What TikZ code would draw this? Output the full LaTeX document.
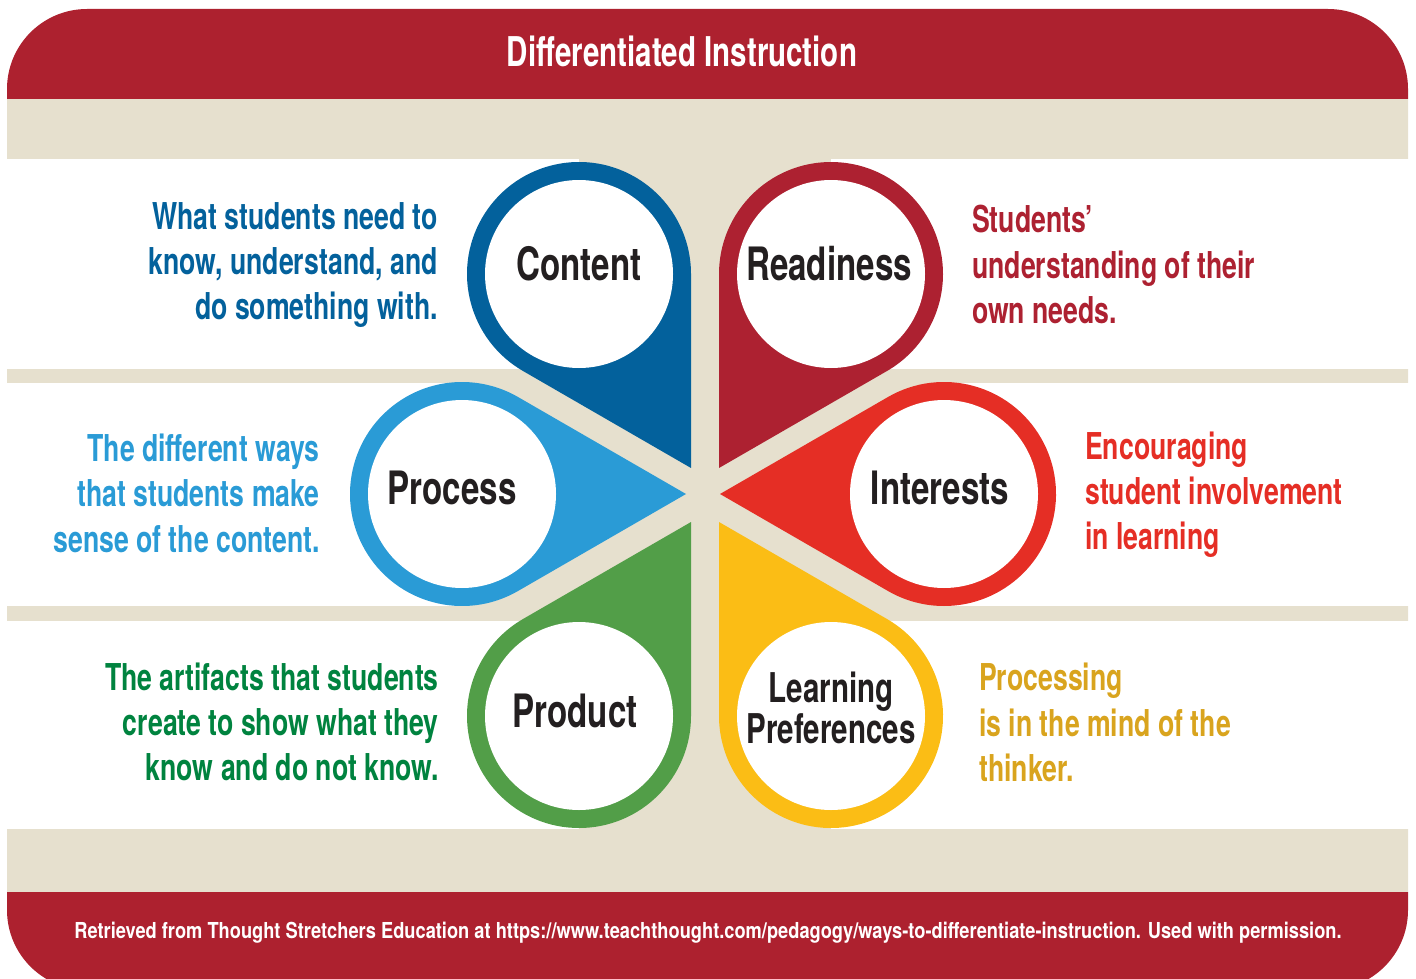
\documentclass[tikz,border=0pt]{standalone}
\usepackage{fontspec}
\newfontfamily\cnd[FakeStretch=0.72]{TeX Gyre Heros}
\newfontfamily\cndf[FakeStretch=0.83]{TeX Gyre Heros}
\usetikzlibrary{calc}
\definecolor{hdrred}{HTML}{AD212F}
\definecolor{beige}{HTML}{E6E0CE}
\definecolor{cblue}{HTML}{03619C}
\definecolor{rred}{HTML}{AD2131}
\definecolor{pblue}{HTML}{2A9BD6}
\definecolor{ired}{HTML}{E52E25}
\definecolor{pgreen}{HTML}{529E48}
\definecolor{lyellow}{HTML}{FBBD15}
\definecolor{gtext}{HTML}{00833F}
\definecolor{ytext}{HTML}{D9A41E}
\definecolor{lblack}{HTML}{231F20}
\newcommand\petal[3]{%
  \fill[#3] ($(#1)+(#2:224)$) -- ($(#1)+(#2+60:112)$) arc[start angle=#2+60, end angle=#2+300, radius=112] -- cycle;
  \fill[white] (#1) circle[radius=94];}
\tikzset{
  ttl/.style={font=\cnd\bfseries\fontsize{41}{41}\selectfont, text=white, inner sep=0pt},
  lbl/.style={font=\cnd\bfseries\fontsize{46}{46}\selectfont, text=lblack, inner sep=0pt},
  lbl2/.style={font=\cnd\bfseries\fontsize{41}{41}\selectfont, text=lblack, inner sep=0pt, anchor=base},
  dl/.style={font=\cnd\bfseries\fontsize{37}{37}\selectfont, inner sep=0pt, anchor=base east},
  dr/.style={font=\cnd\bfseries\fontsize{37}{37}\selectfont, inner sep=0pt, anchor=base west},
  foot/.style={font=\cndf\bfseries\fontsize{22}{22}\selectfont, text=white, inner sep=0pt, anchor=base}
}
\begin{document}
\begin{tikzpicture}[x=1pt,y=-1pt]
\useasboundingbox (0,0) rectangle (1416,979);
% frame and bands
\begin{scope}
\clip[rounded corners=80pt] (7,9) rectangle (1408,990);
\fill[hdrred] (0,0) rectangle (1416,99);
\fill[beige] (0,99) rectangle (1416,159);
\fill[beige] (0,369) rectangle (1416,383);
\fill[beige] (0,606) rectangle (1416,621);
\fill[beige] (0,829) rectangle (1416,892);
\fill[hdrred] (0,892) rectangle (1416,990);
\end{scope}
% beige background behind the flower
\fill[beige] (579,159) rectangle (831,369);
\fill[beige] (691,159) rectangle (720,829);
\fill[beige] (462,369) rectangle (944,621);
\fill[beige] (579,621) rectangle (831,829);
% petals
\petal{579,274}{60}{cblue}
\petal{831,274}{120}{rred}
\petal{462,494}{0}{pblue}
\petal{944,494}{180}{ired}
\petal{579,716}{300}{pgreen}
\petal{831,716}{240}{lyellow}
% title and footer
\node[ttl] (title) at (682,51) {Differentiated Instruction};
\node[foot] (footer) at (708,938) {Retrieved from Thought Stretchers Education at https://www.teachthought.com/pedagogy/ways-to-differentiate-instruction. Used with permission.};
% petal labels
\node[lbl] (content) at (579,264) {Content};
\node[lbl] (readiness) at (829,264) {Readiness};
\node[lbl] (process) at (452,488) {Process};
\node[lbl] (interests) at (940,488) {Interests};
\node[lbl] (product) at (575,711) {Product};
\node[lbl2] (learning) at (831,702) {Learning};
\node[lbl2] (preferences) at (831,743) {Preferences};
% descriptions
\node[dl, text=cblue] (cd1) at (438,229) {What students need to};
\node[dl, text=cblue] (cd2) at (438,274) {know, understand, and};
\node[dl, text=cblue] (cd3) at (438,319) {do something with.};
\node[dr, text=rred] (rd1) at (972,232) {Students’};
\node[dr, text=rred] (rd2) at (972,278) {understanding of their};
\node[dr, text=rred] (rd3) at (972,323) {own needs.};
\node[dl, text=pblue] (pd1) at (320,461) {The different ways};
\node[dl, text=pblue] (pd2) at (320,506) {that students make};
\node[dl, text=pblue] (pd3) at (320,552) {sense of the content.};
\node[dr, text=ired] (id1) at (1085,459) {Encouraging};
\node[dr, text=ired] (id2) at (1085,504) {student involvement};
\node[dr, text=ired] (id3) at (1085,549) {in learning};
\node[dl, text=gtext] (gd1) at (439,690) {The artifacts that students};
\node[dl, text=gtext] (gd2) at (439,735) {create to show what they};
\node[dl, text=gtext] (gd3) at (439,780) {know and do not know.};
\node[dr, text=ytext] (yd1) at (979,690) {Processing};
\node[dr, text=ytext] (yd2) at (979,736) {is in the mind of the};
\node[dr, text=ytext] (yd3) at (979,781) {thinker.};
\end{tikzpicture}
\end{document}
